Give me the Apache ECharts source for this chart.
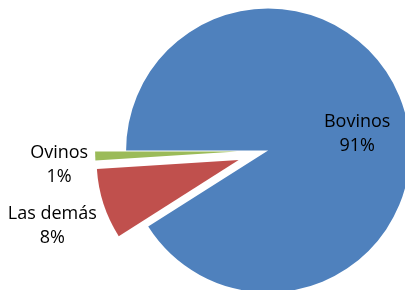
<!DOCTYPE html>
<html>
<head>
<meta charset="utf-8">
<script src="https://cdn.jsdelivr.net/npm/echarts@6/dist/echarts.min.js"></script>
<style>
html,body{margin:0;padding:0;background:#fff;}
#chart{width:405px;height:290px;}
</style>
</head>
<body>
<div id="chart"></div>
<script>
// categorias y porcentajes
var categorias = ['Bovinos', 'Las demás', 'Ovinos'];
var valores = [91, 8, 1];
var colores = ['#4F81BD', '#C0504D', '#9BBB59'];
var separado = [false, true, true];
var desplaz = [[18, 4], [-116, 43], [-104, 11]];

var datos = [];
for (var i = 0; i < categorias.length; i++) {
	datos.push({
		name: categorias[i],
		value: valores[i],
		selected: separado[i],
		itemStyle: {color: colores[i]},
		label: {offset: desplaz[i]},
		select: {itemStyle: {color: colores[i]}, label: {offset: desplaz[i]}}
	});
}

var option = {
	animation: false,
	series: [
		{
			type: 'pie',
			center: ['66.2%', '51.9%'],
			radius: 142,
			startAngle: 180,
			clockwise: true,
			selectedMode: 'multiple',
			selectedOffset: 31,
			avoidLabelOverlap: false,
			itemStyle: {borderWidth: 0},
			label: {
				show: true,
				position: 'inside',
				formatter: '{b}\n{d}%',
				color: '#000',
				fontFamily: 'Open Sans',
				fontSize: 18,
				lineHeight: 24
			},
			labelLine: {show: false},
			emphasis: {disabled: true},
			data: datos
		}
	]
};
var mychart = echarts.init(document.getElementById('chart'));
mychart.setOption(option);
</script>
</body>
</html>
